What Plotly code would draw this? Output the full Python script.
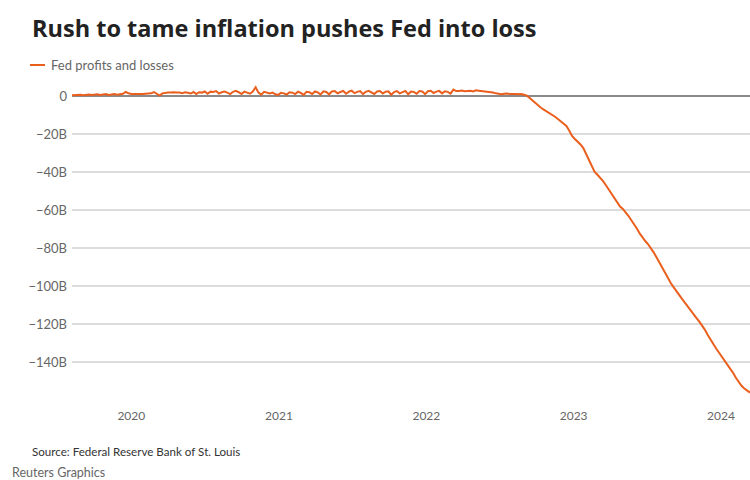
import pandas as pd
import plotly.graph_objects as go

# Weekly Fed earnings remittances / deferred asset (billions USD), from 2019-08-07
START_DATE = "2019-08-07"
positive_phase = [
    0.6, 0.8, 0.7, 0.9, 0.6, 0.8, 1.0, 0.7, 0.9, 1.1, 0.8, 0.9, 1.2, 0.8, 1.0, 1.3, 0.9, 1.1, 1.4, 2.4, 1.6,
    1.3, 1.2, 1.3, 1.2, 1.3, 1.3, 1.4, 1.6, 2.3, 1.5, 0.4,
    1.6, 2.0, 2.1, 2.0, 2.2, 2.0, 2.1, 1.7, 2.2, 1.9, 1.5, 2.3,
    1.2, 2.2, 2.0, 2.6, 1.4, 2.5, 2.3, 2.8, 1.5, 2.2, 2.6, 2.0, 1.2, 2.4, 2.9, 2.2, 1.3, 2.5, 2.1, 1.4,
    2.6, 4.8, 2.0, 0.9, 2.4, 2.1, 1.5, 2.0, 1.1, 0.8, 1.9, 1.6, 1.0, 2.2, 2.0, 1.2, 2.5, 1.8, 0.8, 2.4,
    2.2, 1.3, 2.6, 2.1, 1.0, 2.7, 2.3,
    1.1, 2.6, 2.8, 1.6, 2.3, 2.9, 1.4, 2.5, 3.0, 1.7, 2.4, 2.8, 1.2, 2.4, 2.9, 2.2, 1.3, 2.6, 2.8, 1.5,
    2.5, 2.7, 0.9, 2.3, 2.8, 1.6, 2.4, 2.9, 1.1, 2.6, 2.4, 1.4, 2.8, 2.6, 1.2, 2.7, 3.0, 1.8, 2.5, 2.9,
    1.6, 2.7, 2.4, 1.5, 3.6,
    2.8, 2.9, 3.1, 2.7, 2.9, 3.0, 2.6, 3.2, 3.0, 2.8, 2.9, 2.5, 2.3, 2.0, 1.6,
    1.3, 1.1, 1.4, 1.5, 1.2, 1.4, 1.3, 1.1, 1.2, 0.9, 0.4,
]
loss_phase = [
    -0.8, -2.2, -3.6, -5.0, -6.0, -7.0, -7.9, -8.7, -9.5, -10.7,
    -11.9, -13.1, -14.2, -15.6, -18.0, -20.8, -22.4, -23.8, -25.3, -27.2,
    -30.5, -34.0, -37.2, -39.8, -41.3, -42.8, -44.6, -46.8, -49.0, -51.4,
    -53.6, -55.8, -58.0, -59.3, -61.0, -63.0, -65.2, -67.3, -69.7, -72.3,
    -74.6, -76.3, -78.0, -79.9, -82.4, -85.0, -87.8, -90.4, -93.1, -95.6,
    -98.4, -100.6, -102.8, -104.9, -106.8, -108.7, -110.8, -112.8, -114.7, -116.6,
    -118.5, -120.4, -122.8, -125.5, -128.2, -130.6, -132.8, -134.9, -137.0, -138.8,
    -140.8, -143.0, -145.6, -148.2, -150.6, -152.4, -153.8, -155.0, -156.0,
]
values = positive_phase + loss_phase
dates = pd.date_range(START_DATE, periods=len(values), freq="7D")

y_tickvals = [0, -20, -40, -60, -80, -100, -120, -140]
y_ticktext = ["0", "−20B", "−40B", "−60B", "−80B", "−100B", "−120B", "−140B"]
x_tickvals = ["2020-01-01", "2021-01-01", "2022-01-01", "2023-01-01", "2024-01-01"]
x_ticktext = ["2020", "2021", "2022", "2023", "2024"]

ORANGE = "#ea5f1d"
FONT = "Lato, 'Noto Sans', sans-serif"
TITLE_FONT = "'Open Sans', Lato, sans-serif"

W, H = 750, 480
l, r, t, b = 72, 0, 85, 76
pw, ph = W - l - r, H - t - b


def px_x(x):
    return (x - l) / pw


def px_y(y):
    return 1 - (y - t) / ph


fig = go.Figure()
fig.add_trace(go.Scatter(
    x=dates, y=values, mode="lines", name="Fed profits and losses",
    line=dict(color=ORANGE, width=2), hoverinfo="x+y",
))

fig.update_layout(
    width=W, height=H,
    margin=dict(l=l, r=r, t=t, b=b),
    paper_bgcolor="white", plot_bgcolor="white",
    showlegend=False,
    font=dict(family=FONT, color="#666"),
    xaxis=dict(
        range=[dates[0], dates[-1]],
        tickvals=x_tickvals, ticktext=x_ticktext,
        showgrid=False, zeroline=False, showline=False,
        ticks="outside", ticklen=0, ticklabelstandoff=1,
        tickfont=dict(size=12, color="#666"),
    ),
    yaxis=dict(
        range=[-162, 6],
        tickvals=y_tickvals, ticktext=y_ticktext,
        showgrid=True, gridcolor="#dcdcdc", gridwidth=1.5,
        zeroline=True, zerolinecolor="#8a8a8a", zerolinewidth=2,
        showline=False, ticks="", ticklabelstandoff=4,
        tickfont=dict(size=13, color="#666"),
    ),
    annotations=[
        dict(text="<b>Rush to tame inflation pushes Fed into loss</b>",
             x=px_x(30), y=px_y(28), xref="paper", yref="paper", showarrow=False,
             xanchor="left", yanchor="middle",
             font=dict(size=23.5, color="#222", family=TITLE_FONT)),
        dict(text="Fed profits and losses",
             x=px_x(49), y=px_y(65), xref="paper", yref="paper", showarrow=False,
             xanchor="left", yanchor="middle", font=dict(size=13, color="#666")),
        dict(text="Source: Federal Reserve Bank of St. Louis",
             x=px_x(30), y=px_y(451), xref="paper", yref="paper", showarrow=False,
             xanchor="left", yanchor="middle", font=dict(size=11.6, color="#333")),
        dict(text="Reuters Graphics",
             x=px_x(10), y=px_y(472), xref="paper", yref="paper", showarrow=False,
             xanchor="left", yanchor="middle", font=dict(size=12.5, color="#666")),
    ],
)

fig.add_shape(type="line", xref="paper", yref="paper",
              x0=px_x(30), x1=px_x(45), y0=px_y(65), y1=px_y(65),
              line=dict(color=ORANGE, width=2))

fig.write_html("out.html", config={"displayModeBar": False},
               post_script="document.body.style.margin='0';")
